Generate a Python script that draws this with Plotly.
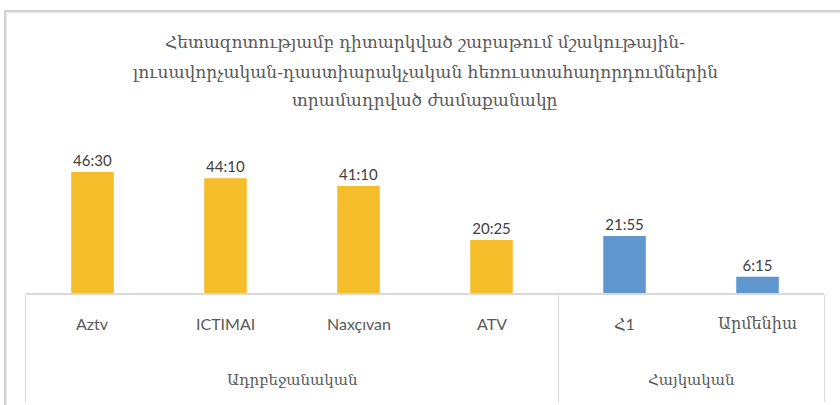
import plotly.graph_objects as go

title_lines = [
    "Հետազոտությամբ դիտարկված շաբաթում մշակութային-",
    "լուսավորչական-դաստիարակչական հեռուստահաղորդումներին",
    "տրամադրված ժամաքանակը",
]
groups = ["Ադրբեջանական", "Ադրբեջանական", "Ադրբեջանական", "Ադրբեջանական", "Հայկական", "Հայկական"]
channels = ["Aztv", "ICTIMAI", "Naxçıvan", "ATV", "Հ1", "Արմենիա"]
durations = ["46:30", "44:10", "41:10", "20:25", "21:55", "6:15"]
hours = [46.5, 44.1667, 41.1667, 20.4167, 21.9167, 6.25]
colors = ["#F6BD2B", "#F6BD2B", "#F6BD2B", "#F6BD2B", "#5F97CE", "#5F97CE"]

GRAY = "#D9D9D9"
positions = list(range(len(channels)))

# group spans (start, end index) derived from the groups list
spans = []
for i, g in enumerate(groups):
    if spans and spans[-1][0] == g:
        spans[-1][2] = i
    else:
        spans.append([g, i, i])
boundaries = [spans[0][1] - 0.5] + [s[2] + 0.5 for s in spans]

fig = go.Figure(go.Bar(
    x=positions,
    y=hours,
    text=durations,
    textposition="outside",
    textfont=dict(family="Lato, Open Sans, sans-serif", size=15, color="#404040"),
    marker=dict(color=colors, line=dict(width=0)),
    width=0.32,
    cliponaxis=False,
    hoverinfo="skip",
))

annotations = []
for i, ch in zip(positions, channels):
    annotations.append(dict(
        x=i, y=0, xref="x", yref="y", yshift=-30, showarrow=False,
        text=ch, xanchor="center", yanchor="middle",
        font=dict(family="Lato, DejaVu Serif, sans-serif", size=16, color="#595959"),
    ))
for g, a, b in spans:
    annotations.append(dict(
        x=(a + b) / 2, y=0, xref="x", yref="y", yshift=-87, showarrow=False,
        text=g, xanchor="center", yanchor="middle",
        font=dict(family="DejaVu Serif, serif", size=15, color="#595959"),
    ))
for line, ys in zip(title_lines, [88, 58, 30]):
    annotations.append(dict(
        x=0.5, y=1, xref="x domain", yref="y domain", yshift=ys, showarrow=False,
        text=line, xanchor="center", yanchor="middle",
        font=dict(family="DejaVu Serif, serif", size=17, color="#595959"),
    ))

fig.update_layout(
    width=840, height=405,
    margin=dict(l=4, r=0, t=10, b=0, pad=0),
    paper_bgcolor="white", plot_bgcolor="white",
    showlegend=False,
    xaxis=dict(
        domain=[0.0263, 0.9809],
        type="linear", range=[boundaries[0], boundaries[-1]],
        showline=True, linecolor=GRAY, linewidth=2,
        tickmode="array", tickvals=boundaries, showticklabels=False,
        ticks="outside", ticklen=107, tickwidth=1, tickcolor=GRAY,
        showgrid=False, zeroline=False, automargin=False,
    ),
    yaxis=dict(domain=[0.2835, 0.6962], range=[0, 62.7], visible=False,
               automargin=False),
    annotations=annotations,
    shapes=[
        dict(type="line", xref="paper", yref="paper",
             x0=0.0015, x1=0.0015, y0=0, y1=1,
             line=dict(color="#D3D3D3", width=2.5), layer="above"),
        dict(type="line", xref="paper", yref="paper",
             x0=0, x1=1, y0=0.997, y1=0.997,
             line=dict(color="#D3D3D3", width=2.5), layer="above"),
    ],
)

fig.write_html(
    "out.html",
    config={"displayModeBar": False},
    post_script="document.body.style.margin='0';document.body.style.overflow='hidden';",
)
